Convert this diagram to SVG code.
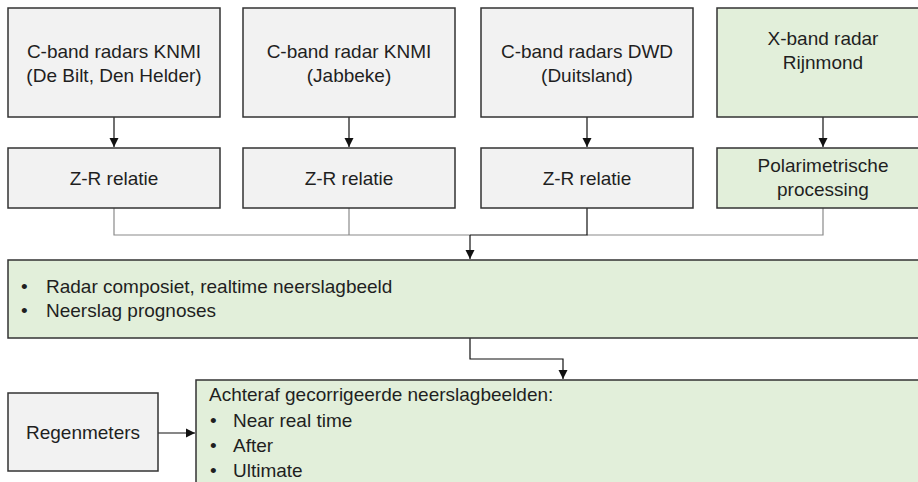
<svg xmlns="http://www.w3.org/2000/svg" width="918" height="482" viewBox="0 0 918 482">
<defs>
<marker id="ah" markerWidth="10" markerHeight="10" refX="9" refY="5" orient="auto" markerUnits="userSpaceOnUse">
<path d="M0,0.5 L9,5 L0,9.5 Z" fill="#111"/>
</marker>
<style>
.g{fill:#f2f2f2;stroke:#333;stroke-width:1.5}
.v{fill:#e2efda;stroke:#333;stroke-width:1.5}
text{font-family:"Liberation Sans",Arial,sans-serif;font-size:19px;fill:#1f1f1f}
.c{text-anchor:middle}
.ln{fill:none;stroke:#111;stroke-width:1.2}
.lg{fill:none;stroke:#8a8a8a;stroke-width:1.2}
</style>
</defs>
<rect width="918" height="482" fill="#fff"/>
<g id="connectors">
<path class="ln" d="M114,117 V147" marker-end="url(#ah)"/>
<path class="ln" d="M349,117 V147" marker-end="url(#ah)"/>
<path class="ln" d="M587,117 V147" marker-end="url(#ah)"/>
<path class="ln" d="M823,117 V147" marker-end="url(#ah)"/>
<path class="lg" d="M114,208 V235 H470"/>
<path class="lg" d="M349,208 V235"/>
<path class="lg" d="M823,208 V235 H587"/>
<path class="ln" d="M587,208 V235 H470"/>
<path class="ln" d="M470,235 V259" marker-end="url(#ah)"/>
<path class="ln" d="M470,338 V359 H563 V379" marker-end="url(#ah)"/>
<path class="ln" d="M158,433 H195" marker-end="url(#ah)"/>
</g>
<g id="n1"><rect class="g" x="8" y="8" width="212" height="109"/><text class="c" x="114" y="58">C-band radars KNMI</text><text class="c" x="114" y="82">(De Bilt, Den Helder)</text></g>
<g id="n2"><rect class="g" x="243" y="8" width="212" height="109"/><text class="c" x="349" y="58">C-band radar KNMI</text><text class="c" x="349" y="82">(Jabbeke)</text></g>
<g id="n3"><rect class="g" x="481" y="8" width="212" height="109"/><text class="c" x="587" y="58">C-band radars DWD</text><text class="c" x="587" y="82">(Duitsland)</text></g>
<g id="n4"><rect class="v" x="717" y="8" width="212" height="109"/><text class="c" x="823" y="45">X-band radar</text><text class="c" x="823" y="69">Rijnmond</text></g>
<g id="n5"><rect class="g" x="8" y="148" width="212" height="60"/><text class="c" x="114" y="185">Z-R relatie</text></g>
<g id="n6"><rect class="g" x="243" y="148" width="212" height="60"/><text class="c" x="349" y="185">Z-R relatie</text></g>
<g id="n7"><rect class="g" x="481" y="148" width="212" height="60"/><text class="c" x="587" y="185">Z-R relatie</text></g>
<g id="n8"><rect class="v" x="717" y="148" width="212" height="60"/><text class="c" x="823" y="172">Polarimetrische</text><text class="c" x="823" y="196">processing</text></g>
<g id="n9"><rect class="v" x="8" y="260" width="930" height="78"/>
<text x="21" y="293">•</text><text x="46" y="293">Radar composiet, realtime neerslagbeeld</text>
<text x="21" y="317">•</text><text x="46" y="317">Neerslag prognoses</text></g>
<g id="n10"><rect class="g" x="8" y="393" width="150" height="78"/><text class="c" x="83" y="439">Regenmeters</text></g>
<g id="n11"><rect class="v" x="196" y="380" width="740" height="120"/>
<text x="209" y="401">Achteraf gecorrigeerde neerslagbeelden:</text>
<text x="210" y="427">•</text><text x="233" y="427">Near real time</text>
<text x="210" y="452">•</text><text x="233" y="452">After</text>
<text x="210" y="477">•</text><text x="233" y="477">Ultimate</text></g>
</svg>
